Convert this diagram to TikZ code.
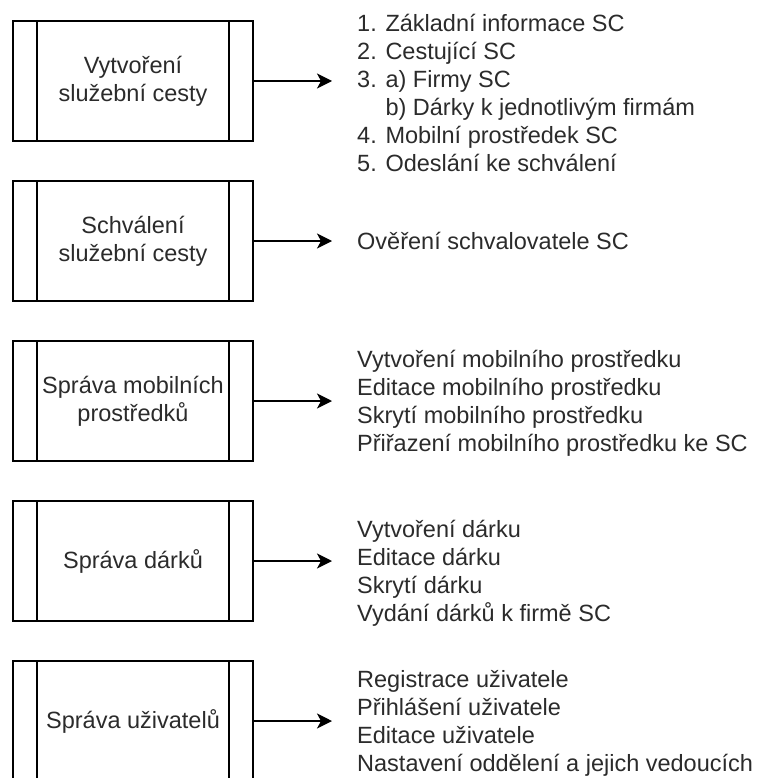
\documentclass[tikz,border=0pt]{standalone}
\usepackage{fontspec}
\setmainfont{Liberation Sans}
\usetikzlibrary{arrows.meta}
\definecolor{txt}{HTML}{2B2B2B}
\begin{document}
\begin{tikzpicture}[x=1pt,y=-1pt,
  font=\fontsize{23.5pt}{28pt}\selectfont,
  procbox/.style={draw, line width=1.5pt, minimum width=240pt, minimum height=120pt,
    inner sep=0pt, align=center, text=txt,
    path picture={\draw[line width=1.5pt]
      ([xshift=24pt]path picture bounding box.north west) -- ([xshift=24pt]path picture bounding box.south west)
      ([xshift=-24pt]path picture bounding box.north east) -- ([xshift=-24pt]path picture bounding box.south east);}},
  itemlist/.style={anchor=west, align=left, inner sep=0pt, text=txt},
  arr/.style={line width=1.5pt, -{Stealth[length=15pt,width=15pt,inset=4pt]}}]
\clip (0,0) rectangle (764,778);
\useasboundingbox (0,0) rectangle (764,778);

\node[procbox] (b1) at (133,81) {Vytvoření\\služební cesty};
\node[procbox] (b2) at (133,241) {Schválení\\služební cesty};
\node[procbox] (b3) at (133,401) {Správa mobilních\\prostředků};
\node[procbox] (b4) at (133,561) {Správa dárků};
\node[procbox] (b5) at (133,721) {Správa uživatelů};

\node[itemlist] (l1) at (357,93) {1. Základní informace SC\\2. Cestující SC\\3. a) Firmy SC\\\hphantom{3. }b) Dárky k jednotlivým firmám\\4. Mobilní prostředek SC\\5. Odeslání ke schválení};
\node[itemlist] (l2) at (357,241) {Ověření schvalovatele SC};
\node[itemlist] (l3) at (357,403) {Vytvoření mobilního prostředku\\Editace mobilního prostředku\\Skrytí mobilního prostředku\\Přiřazení mobilního prostředku ke SC};
\node[itemlist] (l4) at (357,573) {Vytvoření dárku\\Editace dárku\\Skrytí dárku\\Vydání dárků k firmě SC};
\node[itemlist] (l5) at (357,723) {Registrace uživatele\\Přihlášení uživatele\\Editace uživatele\\Nastavení oddělení a jejich vedoucích};

\foreach \i in {1,...,5}
  \draw[arr] (b\i.east) -- ([xshift=-25pt]b\i.east -| l\i.west);
\end{tikzpicture}
\end{document}
